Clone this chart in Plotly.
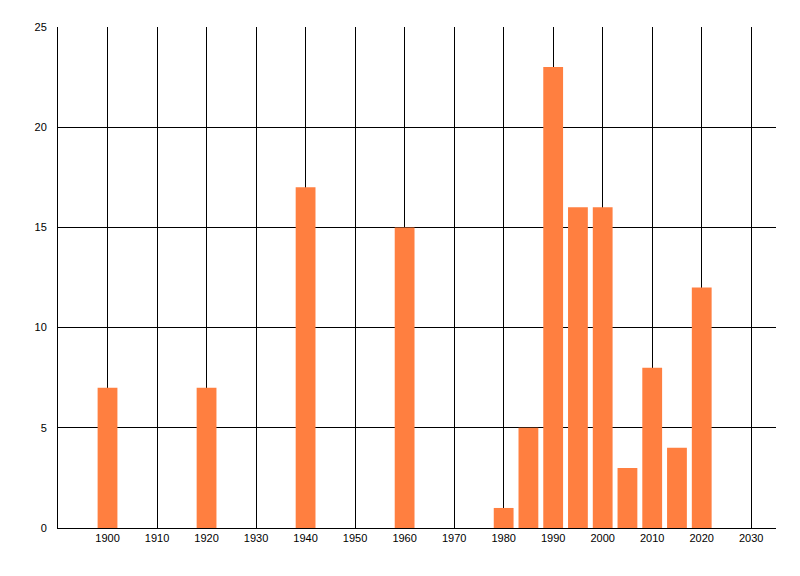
import plotly.graph_objects as go

years = [1900, 1920, 1940, 1960, 1980, 1985, 1990, 1995, 2000, 2005, 2010, 2015, 2020]
counts = [7, 7, 17, 15, 1, 5, 23, 16, 16, 3, 8, 4, 12]
x_ticks = list(range(1900, 2031, 10))
y_ticks = [0, 5, 10, 15, 20, 25]

fig = go.Figure(go.Bar(
    x=years, y=counts, width=4,
    marker=dict(color="#FF7F40", line=dict(width=0)),
))

# page body has an 8px margin, so the plot box is shifted back by that
fig.update_layout(
    width=800, height=576,
    margin=dict(l=50, r=32, t=19, b=56),
    paper_bgcolor="white", plot_bgcolor="white",
    font=dict(family="Liberation Sans, Arial, sans-serif", size=11, color="black"),
    showlegend=False,
)
fig.update_xaxes(
    range=[1890, 2035], tickvals=x_ticks, ticktext=[str(t) for t in x_ticks],
    showgrid=True, gridcolor="black", gridwidth=1,
    showline=True, linecolor="black", linewidth=1,
    zeroline=False, ticks="", ticklen=0,
)
fig.update_yaxes(
    range=[0, 25], tickvals=y_ticks,
    showgrid=True, gridcolor="black", gridwidth=1,
    showline=True, linecolor="black", linewidth=1,
    zeroline=False, ticks="", ticklen=0, ticklabelstandoff=8,
)

fig.write_html("out.html")
